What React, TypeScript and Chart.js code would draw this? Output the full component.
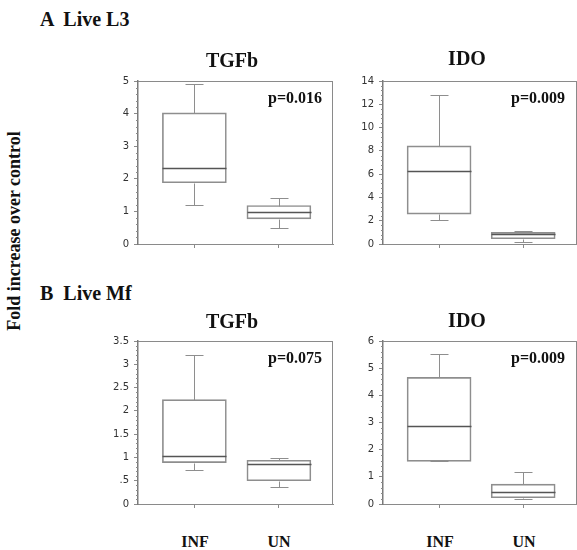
import React, { useEffect, useRef } from "react";
import { Chart, registerables } from "chart.js";

Chart.register(...registerables);

// ---------- data ----------
const groups = ["INF", "UN"];
// each box: [min, q1, median, q3, max]
const l3TgfbInf = [1.21, 1.88, 2.33, 4.02, 4.9];
const l3TgfbUn = [0.5, 0.77, 0.97, 1.18, 1.4];
const l3IdoInf = [2.05, 2.56, 6.27, 8.43, 12.8];
const l3IdoUn = [0.15, 0.45, 0.85, 1.0, 1.1];
const mfTgfbInf = [0.74, 0.89, 1.04, 2.24, 3.21];
const mfTgfbUn = [0.36, 0.5, 0.86, 0.94, 0.98];
const mfIdoInf = [1.57, 1.57, 2.87, 4.66, 5.51];
const mfIdoUn = [0.17, 0.23, 0.45, 0.73, 1.18];

const ticksL3Tgfb = ["0", "1", "2", "3", "4", "5"];
const ticksL3Ido = ["0", "2", "4", "6", "8", "10", "12", "14"];
const ticksMfTgfb = ["0", ".5", "1", "1.5", "2", "2.5", "3", "3.5"];
const ticksMfIdo = ["0", "1", "2", "3", "4", "5", "6"];

const pL3Tgfb = "p=0.016";
const pL3Ido = "p=0.009";
const pMfTgfb = "p=0.075";
const pMfIdo = "p=0.009";

const sectionA = "A  Live L3";
const sectionB = "B  Live Mf";
const geneTgfb = "TGFb";
const geneIdo = "IDO";
const yTitle = "Fold increase over control";

// ---------- style ----------
const LINE = "#8e8e8e";
const MEDIAN = "#555555";
const AXIS = "#8a8a8a";
const SERIF = "'Liberation Serif', 'Times New Roman', serif";

type PanelCfg = {
  L: number; T: number; R: number; B: number;
  labels: string[];
  boxes: number[][];
};

const panels: PanelCfg[] = [
  { L: 138, T: 80, R: 333, B: 244, labels: ticksL3Tgfb, boxes: [l3TgfbInf, l3TgfbUn] },
  { L: 383, T: 80, R: 577, B: 244, labels: ticksL3Ido, boxes: [l3IdoInf, l3IdoUn] },
  { L: 138, T: 340, R: 333, B: 504, labels: ticksMfTgfb, boxes: [mfTgfbInf, mfTgfbUn] },
  { L: 383, T: 340, R: 577, B: 504, labels: ticksMfIdo, boxes: [mfIdoInf, mfIdoUn] },
];

const boxPlugin = {
  id: "boxExtras",
  afterDatasetsDraw(chart: any) {
    const ctx = chart.ctx;
    const xs = chart.scales.x;
    const ys = chart.scales.y;
    const boxes: number[][] = chart.options.plugins.boxExtras.boxes;
    const area = chart.chartArea;
    ctx.save();
    // frame (top + right)
    ctx.strokeStyle = AXIS;
    ctx.lineWidth = 1;
    ctx.beginPath();
    ctx.moveTo(area.left, Math.round(area.top) + 0.5);
    ctx.lineTo(area.right, Math.round(area.top) + 0.5);
    ctx.moveTo(Math.round(area.right) - 0.5, area.top);
    ctx.lineTo(Math.round(area.right) - 0.5, area.bottom);
    ctx.stroke();
    // minor ticks on y axis
    const yt = ys.ticks;
    if (yt.length > 1) {
      const step = yt[1].value - yt[0].value;
      ctx.beginPath();
      for (let i = 0; i < yt.length - 1; i++) {
        for (let k = 1; k < 5; k++) {
          const py = Math.round(ys.getPixelForValue(yt[i].value + (step * k) / 5)) + 0.5;
          ctx.moveTo(area.left - 2, py);
          ctx.lineTo(area.left, py);
        }
      }
      ctx.stroke();
    }
    // whiskers + medians
    const cap = 9;
    boxes.forEach((b, i) => {
      const cx = Math.round(xs.getPixelForValue(i)) + 0.5;
      const p = b.map((v) => Math.round(ys.getPixelForValue(v)) + 0.5);
      ctx.strokeStyle = LINE;
      ctx.lineWidth = 1;
      ctx.beginPath();
      ctx.moveTo(cx, p[3]);
      ctx.lineTo(cx, p[4]);
      ctx.moveTo(cx - cap, p[4]);
      ctx.lineTo(cx + cap, p[4]);
      ctx.moveTo(cx, p[1]);
      ctx.lineTo(cx, p[0]);
      ctx.moveTo(cx - cap, p[0]);
      ctx.lineTo(cx + cap, p[0]);
      ctx.stroke();
      ctx.strokeStyle = MEDIAN;
      ctx.lineWidth = 1.6;
      ctx.beginPath();
      ctx.moveTo(cx - 32, p[2]);
      ctx.lineTo(cx + 32, p[2]);
      ctx.stroke();
    });
    ctx.restore();
  },
};

function BoxPanel({ cfg }: { cfg: PanelCfg }) {
  const ref = useRef<HTMLCanvasElement>(null);
  const width = cfg.R - cfg.L + 44;
  const height = cfg.B - cfg.T + 24;
  useEffect(() => {
    const labels = cfg.labels;
    const yMax = Number(labels[labels.length - 1]);
    const step = Number(labels[1]);
    const chart = new Chart(ref.current as HTMLCanvasElement, {
      type: "bar",
      data: {
        datasets: [
          {
            data: cfg.boxes.map((b, i) => ({ x: i, y: [b[1], b[3]] })) as any,
            backgroundColor: "rgba(255,255,255,0)",
            borderColor: LINE,
            borderWidth: 1,
            borderSkipped: false,
            barThickness: 64,
          } as any,
        ],
      },
      options: {
        responsive: false,
        animation: false,
        devicePixelRatio: 1,
        layout: { padding: { top: 10, right: 4, left: 0, bottom: 0 } },
        plugins: {
          legend: { display: false },
          tooltip: { enabled: false },
          boxExtras: { boxes: cfg.boxes },
        } as any,
        scales: {
          x: {
            type: "linear",
            min: -0.667,
            max: 1.64,
            offset: false,
            afterBuildTicks: (s: any) => {
              s.ticks = groups.map((_, i) => ({ value: i }));
            },
            ticks: { display: false },
            grid: { drawOnChartArea: false, tickLength: 4, color: AXIS, offset: false },
            border: { color: AXIS, width: 1 },
            afterFit: (s: any) => {
              s.height = 14;
            },
          },
          y: {
            min: 0,
            max: yMax,
            ticks: {
              stepSize: step,
              callback: (_v: any, i: number) => labels[i],
              font: { family: "'DejaVu Sans', sans-serif", size: 10 },
              color: "#333",
              padding: 5,
            },
            grid: { drawOnChartArea: false, tickLength: 4, color: AXIS },
            border: { color: "#7a7a7a", width: 1.5 },
            afterFit: (s: any) => {
              s.width = 40;
            },
          },
        } as any,
      },
      plugins: [boxPlugin],
    });
    return () => chart.destroy();
  }, [cfg]);
  return (
    <canvas
      ref={ref}
      width={width}
      height={height}
      style={{ position: "absolute", left: cfg.L - 40, top: cfg.T - 10, width, height }}
    />
  );
}

function Txt({
  text, x, baseline, size, align = "left",
}: { text: string; x: number; baseline: number; size: number; align?: "left" | "center" | "right" }) {
  const tx = align === "center" ? "translateX(-50%)" : align === "right" ? "translateX(-100%)" : "none";
  return (
    <div
      style={{
        position: "absolute",
        left: x,
        top: baseline - 0.891 * size,
        fontFamily: SERIF,
        fontWeight: "bold",
        fontSize: size,
        lineHeight: "normal",
        whiteSpace: "pre",
        color: "#111",
        transform: tx,
      }}
    >
      {text}
    </div>
  );
}

export default function App() {
  useEffect(() => {
    document.body.style.margin = "0";
  }, []);
  return (
    <div
      style={{
        position: "fixed",
        left: 0,
        top: 0,
        width: 577,
        height: 550,
        overflow: "hidden",
        background: "#fff",
      }}
    >
      {panels.map((p, i) => (
        <BoxPanel key={i} cfg={p} />
      ))}
      <Txt text={sectionA} x={40} baseline={26} size={20} />
      <Txt text={sectionB} x={40} baseline={300} size={20} />
      <Txt text={geneTgfb} x={232} baseline={67} size={20} align="center" />
      <Txt text={geneIdo} x={467} baseline={65} size={20} align="center" />
      <Txt text={geneTgfb} x={232} baseline={328} size={20} align="center" />
      <Txt text={geneIdo} x={467} baseline={327} size={20} align="center" />
      <Txt text={pL3Tgfb} x={322} baseline={103} size={16} align="right" />
      <Txt text={pL3Ido} x={565} baseline={103} size={16} align="right" />
      <Txt text={pMfTgfb} x={322} baseline={363} size={16} align="right" />
      <Txt text={pMfIdo} x={565} baseline={363} size={16} align="right" />
      <Txt text={groups[0]} x={195} baseline={547} size={16} align="center" />
      <Txt text={groups[1]} x={279} baseline={547} size={16} align="center" />
      <Txt text={groups[0]} x={440} baseline={547} size={16} align="center" />
      <Txt text={groups[1]} x={524} baseline={547} size={16} align="center" />
      <div
        style={{
          position: "absolute",
          left: 14,
          top: 231,
          transform: "translate(-50%, -50%) rotate(-90deg)",
          fontFamily: SERIF,
          fontWeight: "bold",
          fontSize: 18,
          whiteSpace: "nowrap",
          color: "#111",
        }}
      >
        {yTitle}
      </div>
    </div>
  );
}
